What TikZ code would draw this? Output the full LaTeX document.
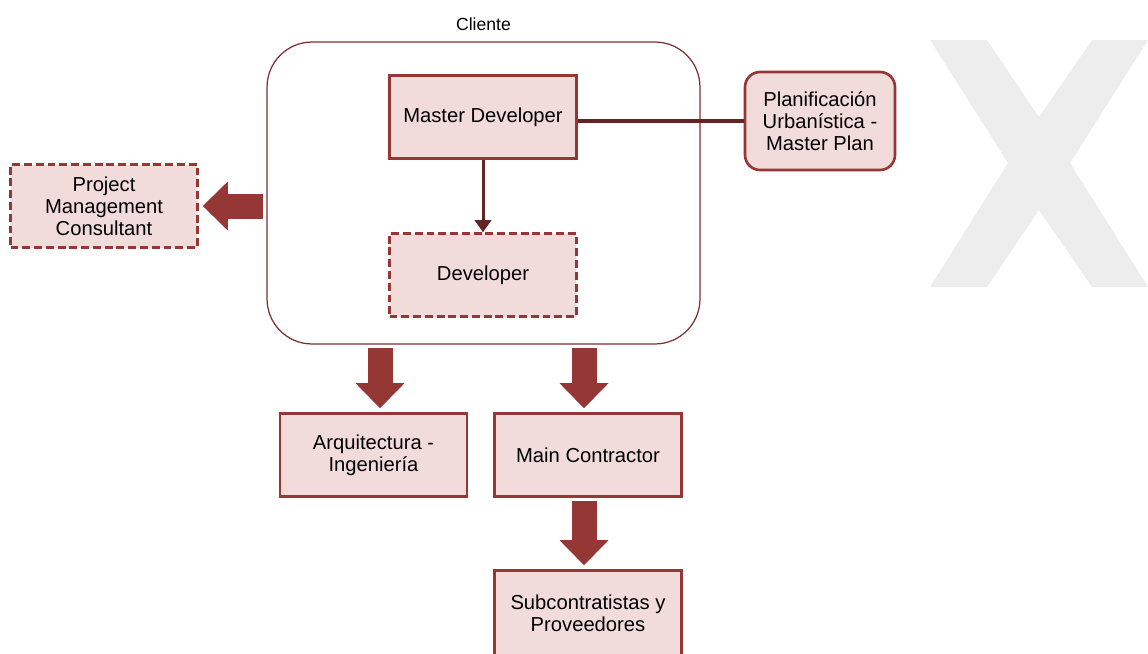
\documentclass[tikz,border=0pt]{standalone}
\usepackage{fontspec}
\setmainfont{Liberation Sans}
\usetikzlibrary{arrows.meta}
\definecolor{boxfill}{RGB}{242,220,219}
\definecolor{boxline}{RGB}{149,55,53}
\definecolor{linkline}{RGB}{99,37,35}
\definecolor{markgray}{RGB}{237,237,237}

\begin{document}
\begin{tikzpicture}[x=0.02cm, y=-0.02cm,
    box/.style={draw=boxline, line width=1.5pt, fill=boxfill, minimum width=3.74cm, minimum height=1.66cm, align=center, font=\fontsize{11.5}{12.5}\selectfont},
    dashbox/.style={box, dash pattern=on 4.5pt off 2.2pt},
    roundbox/.style={box, rounded corners=0.3cm, minimum width=3cm, minimum height=1.96cm},
    group/.style={draw=boxline!85!black, line width=0.7pt, fill=white, rounded corners=0.9cm, minimum width=8.66cm, minimum height=6.04cm},
    link/.style={draw=linkline, line width=0.09cm},
    arrow/.style={draw=linkline, line width=0.06cm, -{Triangle[length=0.24cm 0 0, width=0.34cm 0 0, line width=0pt 0 0]}},
    bigarrow/.style={draw=boxline, line width=0.5cm, shorten <=0.06cm, shorten >=0.08cm, -{Triangle[length=0.5cm 0 0, width=0.98cm 0 0, line width=0pt 0 0]}}
]
    \useasboundingbox (0,0) rectangle (1148,653);

    % background mark
    \fill[markgray] (930,40) -- (987,40) -- (1039,117) -- (1092,40) -- (1148,40) -- (1070,163) -- (1148,287)
        -- (1092,287) -- (1039,210) -- (987,287) -- (930,287) -- (1008,163) -- cycle;

    \node[group, label={[font=\fontsize{10}{12}\selectfont, yshift=0.1cm]above:Cliente}] (cliente) at (483.5,193) {};

    \node[box] (md) at (483,117) {Master Developer};
    \node[dashbox] (dev) at (483,275) {Developer};
    \node[roundbox] (plan) at (820,121) {Planificación\\Urbanística -\\Master Plan};
    \node[dashbox] (pmc) at (104,206) {Project\\Management\\Consultant};
    \node[box] (arq) at (373.5,455) {Arquitectura -\\Ingeniería};
    \node[box] (main) at (588,455) {Main Contractor};
    \node[box, minimum height=1.7cm] (sub) at (588,613) {Subcontratistas y\\Proveedores};

    \draw[link] (plan.west) -- (plan.west -| md.east);
    \draw[arrow] (md) -- (dev);

    \draw[bigarrow] (cliente.west |- pmc.east) -- (pmc.east);
    \draw[bigarrow] ([xshift=0.13cm]arq.north |- cliente.south) -- ([xshift=0.13cm]arq.north);
    \draw[bigarrow] ([xshift=-0.08cm]main.north |- cliente.south) -- ([xshift=-0.08cm]main.north);
    \draw[bigarrow] ([xshift=-0.08cm]main.south) -- ([xshift=-0.08cm]sub.north);
\end{tikzpicture}
\end{document}
